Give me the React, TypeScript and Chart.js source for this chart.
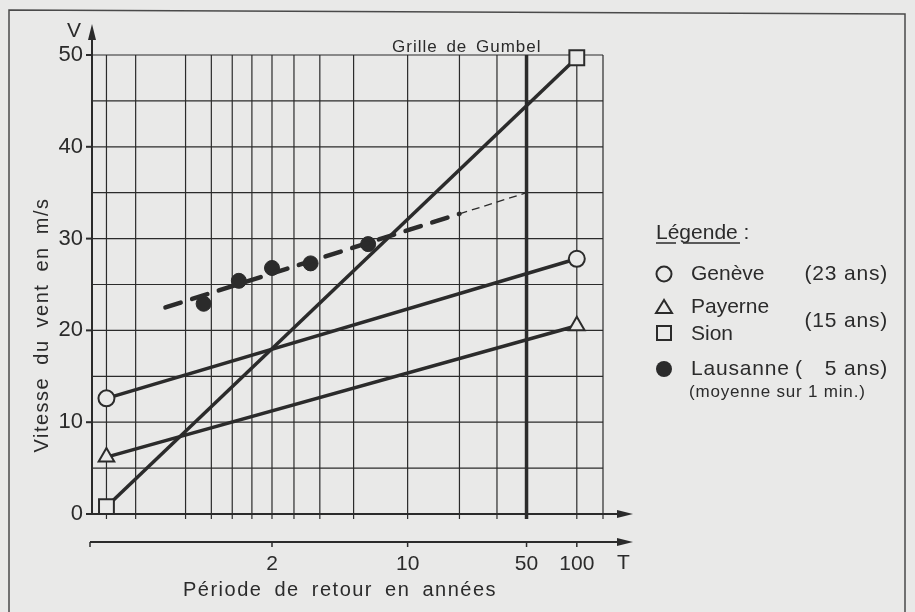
import React, { useEffect, useRef } from "react";
import { Chart, registerables } from "chart.js";

Chart.register(...registerables);

// Gumbel probability grid (non-exceedance probabilities F = 1 - 1/T)
const gridProbabilities = [0.001, 0.01, 0.1, 0.2, 0.3, 0.4, 0.5, 0.6, 0.7, 0.8, 0.9, 0.95, 0.97, 0.98, 0.99];
const thickGridProbability = 0.98; // T = 50 years
const returnPeriodLabels = [2, 10, 50, 100];
const speedGrid = [5, 10, 15, 20, 25, 30, 35, 40, 45, 50];
const speedTicks = [0, 10, 20, 30, 40, 50];

// Stations: end points at F = 0.001 and T = 100 years
const stationT = [1.001, 100];
const geneveV = [12.6, 27.8];
const payerneV = [6.2, 20.5];
const sionV = [0.8, 49.7];

// Lausanne observed maxima (5 years, plotting positions i/(n+1))
const lausanneT = [1.2, 1.5, 2, 3, 6];
const lausanneV = [22.9, 25.4, 26.8, 27.3, 29.4];
const lausanneFitT = [1.05, 20];
const lausanneFitV = [22.5, 32.7];
const lausanneExtT = [20, 50];
const lausanneExtV = [32.7, 35.0];

const xMin = -2.1335;
const xMax = 4.964;

const gumbelF = (F: number) => -Math.log(-Math.log(F));
const gumbelT = (T: number) => gumbelF(1 - 1 / T);
const pts = (ts: number[], vs: number[]) => ts.map((t, i) => ({ x: gumbelT(t), y: vs[i] }));

const INK = "#2b2b2b";
const PAPER = "#e9e9e8";
const FONT = "'Liberation Sans', Arial, sans-serif";

function arrow(ctx: CanvasRenderingContext2D, x: number, y: number, dir: "right" | "up") {
  ctx.beginPath();
  if (dir === "right") {
    ctx.moveTo(x, y);
    ctx.lineTo(x - 16, y - 4);
    ctx.lineTo(x - 16, y + 4);
  } else {
    ctx.moveTo(x, y);
    ctx.lineTo(x - 4, y + 16);
    ctx.lineTo(x + 4, y + 16);
  }
  ctx.closePath();
  ctx.fill();
}

function txt(
  ctx: CanvasRenderingContext2D,
  s: string,
  x: number,
  y: number,
  size: number,
  align: CanvasTextAlign = "left",
  spacing = 0,
  word = 0
) {
  ctx.font = `${size}px ${FONT}`;
  ctx.textAlign = align;
  ctx.textBaseline = "middle";
  (ctx as any).letterSpacing = `${spacing}px`;
  (ctx as any).wordSpacing = `${word}px`;
  ctx.fillText(s, x, y);
  (ctx as any).letterSpacing = "0px";
  (ctx as any).wordSpacing = "0px";
}

const decor = {
  id: "decor",
  beforeDraw(chart: any) {
    const { ctx, width, height } = chart;
    ctx.save();
    ctx.fillStyle = PAPER;
    ctx.fillRect(0, 0, width, height);
    ctx.strokeStyle = "#4a4a4a";
    ctx.lineWidth = 1.5;
    ctx.beginPath();
    ctx.moveTo(9, 640);
    ctx.lineTo(9, 10);
    ctx.lineTo(905, 14);
    ctx.lineTo(905, 640);
    ctx.stroke();
    ctx.restore();
  },
  beforeDatasetsDraw(chart: any) {
    const { ctx, chartArea: a, scales } = chart;
    const x = scales.x;
    const y = scales.y;
    ctx.save();
    ctx.strokeStyle = INK;
    ctx.fillStyle = INK;
    ctx.lineWidth = 1.2;
    const top = y.getPixelForValue(50);
    const bottom = y.getPixelForValue(0);
    // horizontal grid
    speedGrid.forEach((v) => {
      const py = y.getPixelForValue(v);
      ctx.beginPath();
      ctx.moveTo(a.left, py);
      ctx.lineTo(a.right, py);
      ctx.stroke();
    });
    // vertical grid
    const xs = gridProbabilities.map((F) => x.getPixelForValue(gumbelF(F)));
    xs.push(a.right);
    xs.forEach((px, i) => {
      const thick = gridProbabilities[i] === thickGridProbability;
      ctx.lineWidth = thick ? 3.5 : 1.2;
      ctx.beginPath();
      ctx.moveTo(px, top);
      ctx.lineTo(px, bottom + 5);
      ctx.stroke();
    });
    ctx.lineWidth = 1.2;
    // y axis
    ctx.lineWidth = 2;
    ctx.beginPath();
    ctx.moveTo(a.left, bottom);
    ctx.lineTo(a.left, 35);
    ctx.stroke();
    arrow(ctx, a.left, 24, "up");
    speedTicks.forEach((v) => {
      const py = y.getPixelForValue(v);
      ctx.beginPath();
      ctx.moveTo(a.left - 6, py);
      ctx.lineTo(a.left, py);
      ctx.stroke();
    });
    // x axis
    ctx.beginPath();
    ctx.moveTo(a.left - 6, bottom);
    ctx.lineTo(622, bottom);
    ctx.stroke();
    arrow(ctx, 633, bottom, "right");
    // second (return period) axis
    const y2 = bottom + 28;
    ctx.beginPath();
    ctx.moveTo(a.left - 2, y2);
    ctx.lineTo(622, y2);
    ctx.stroke();
    arrow(ctx, 633, y2, "right");
    ctx.lineWidth = 1.5;
    ctx.beginPath();
    ctx.moveTo(a.left - 2, y2);
    ctx.lineTo(a.left - 2, y2 + 5);
    ctx.stroke();
    returnPeriodLabels.forEach((T) => {
      const px = x.getPixelForValue(gumbelT(T));
      ctx.beginPath();
      ctx.moveTo(px, y2);
      ctx.lineTo(px, y2 + 5);
      ctx.stroke();
    });
    ctx.restore();
  },
  afterDraw(chart: any) {
    const { ctx } = chart;
    ctx.save();
    ctx.fillStyle = INK;
    ctx.strokeStyle = INK;
    txt(ctx, "V", 67, 31, 21);
    txt(ctx, "T", 617, 563, 21);
    txt(ctx, "Grille de Gumbel", 392, 47, 17, "left", 1, 3);
    txt(ctx, "Période de retour en années", 340, 590, 20, "center", 1.5, 5);
    ctx.save();
    ctx.translate(42, 325);
    ctx.rotate(-Math.PI / 2);
    txt(ctx, "Vitesse du vent en m/s", 0, 0, 20, "center", 1.5, 5);
    ctx.restore();

    // legend
    txt(ctx, "Légende :", 656, 233, 21);
    ctx.lineWidth = 1.5;
    ctx.beginPath();
    ctx.moveTo(656, 243);
    ctx.lineTo(676, 243);
    ctx.moveTo(683, 243);
    ctx.lineTo(740, 243);
    ctx.stroke();

    ctx.lineWidth = 2;
    ctx.beginPath();
    ctx.arc(664, 274, 7.5, 0, Math.PI * 2);
    ctx.stroke();
    txt(ctx, "Genève", 691, 274, 21);
    txt(ctx, "(23 ans)", 888, 274, 21, "right", 0.8);

    ctx.beginPath();
    ctx.moveTo(664, 300);
    ctx.lineTo(656, 313);
    ctx.lineTo(672, 313);
    ctx.closePath();
    ctx.stroke();
    txt(ctx, "Payerne", 691, 307, 21);
    ctx.strokeRect(657, 326, 14, 14);
    txt(ctx, "Sion", 691, 334, 21);
    txt(ctx, "(15 ans)", 888, 321, 21, "right", 0.8);

    ctx.beginPath();
    ctx.arc(664, 369, 8, 0, Math.PI * 2);
    ctx.fill();
    txt(ctx, "Lausanne", 691, 369, 21, "left", 0.8);
    txt(ctx, "(", 795, 369, 21);
    txt(ctx, "5 ans)", 888, 369, 21, "right", 0.8);
    txt(ctx, "(moyenne sur 1 min.)", 689, 392, 17, "left", 0.8);
    ctx.restore();
  },
};

export default function App() {
  const ref = useRef<HTMLCanvasElement>(null);

  useEffect(() => {
    const canvas = ref.current;
    if (!canvas) return;
    const stationStyle = (style: string, radius: number) => ({
      borderColor: INK,
      borderWidth: 3.5,
      pointStyle: style,
      pointRadius: radius,
      pointBorderWidth: 2,
      pointBorderColor: INK,
      pointBackgroundColor: PAPER,
      clip: false,
    });
    const chart = new Chart(canvas, {
      type: "line",
      data: {
        datasets: [
          {
            label: "Lausanne ajustement",
            data: pts(lausanneFitT, lausanneFitV),
            borderColor: INK,
            borderWidth: 4.5,
            borderDash: [16, 12],
            borderCapStyle: "round",
            pointRadius: 0,
            clip: false,
          },
          {
            label: "Lausanne extrapolation",
            data: pts(lausanneExtT, lausanneExtV),
            borderColor: INK,
            borderWidth: 1.3,
            borderDash: [8, 5],
            pointRadius: 0,
            clip: false,
          },
          { label: "Genève", data: pts(stationT, geneveV), ...stationStyle("circle", 8) },
          { label: "Payerne", data: pts(stationT, payerneV), ...stationStyle("triangle", 9) },
          { label: "Sion", data: pts(stationT, sionV), ...stationStyle("rect", 10.5) },
          {
            label: "Lausanne",
            data: pts(lausanneT, lausanneV),
            showLine: false,
            pointStyle: "circle",
            pointRadius: 7.5,
            pointBackgroundColor: INK,
            pointBorderColor: INK,
            clip: false,
          },
        ],
      } as any,
      options: {
        responsive: false,
        animation: false,
        devicePixelRatio: 1,
        layout: { padding: { top: 55, right: 312, bottom: 0, left: 0 } },
        plugins: { legend: { display: false }, tooltip: { enabled: false } },
        elements: { line: { tension: 0 } },
        scales: {
          x: {
            type: "linear",
            position: "bottom",
            min: xMin,
            max: xMax,
            grid: { display: false, drawTicks: false },
            border: { display: false },
            afterBuildTicks: (s: any) => {
              s.ticks = returnPeriodLabels.map((T) => ({ value: gumbelT(T) }));
            },
            afterFit: (s: any) => {
              s.height = 98;
            },
            ticks: {
              autoSkip: false,
              maxRotation: 0,
              color: INK,
              padding: 38,
              font: { family: FONT, size: 21 },
              callback: (_v: any, i: number) => String(returnPeriodLabels[i]),
            },
          },
          y: {
            type: "linear",
            position: "left",
            min: 0,
            max: 50,
            grid: { display: false, drawTicks: false },
            border: { display: false },
            afterBuildTicks: (s: any) => {
              s.ticks = speedTicks.map((v) => ({ value: v }));
            },
            afterFit: (s: any) => {
              s.width = 92;
            },
            ticks: {
              color: INK,
              padding: 9,
              font: { family: FONT, size: 22 },
            },
          },
        },
      } as any,
      plugins: [decor],
    });
    return () => chart.destroy();
  }, []);

  return (
    <div style={{ position: "fixed", left: 0, top: 0, width: 915, height: 612 }}>
      <canvas ref={ref} width={915} height={612} style={{ display: "block" }} />
    </div>
  );
}
